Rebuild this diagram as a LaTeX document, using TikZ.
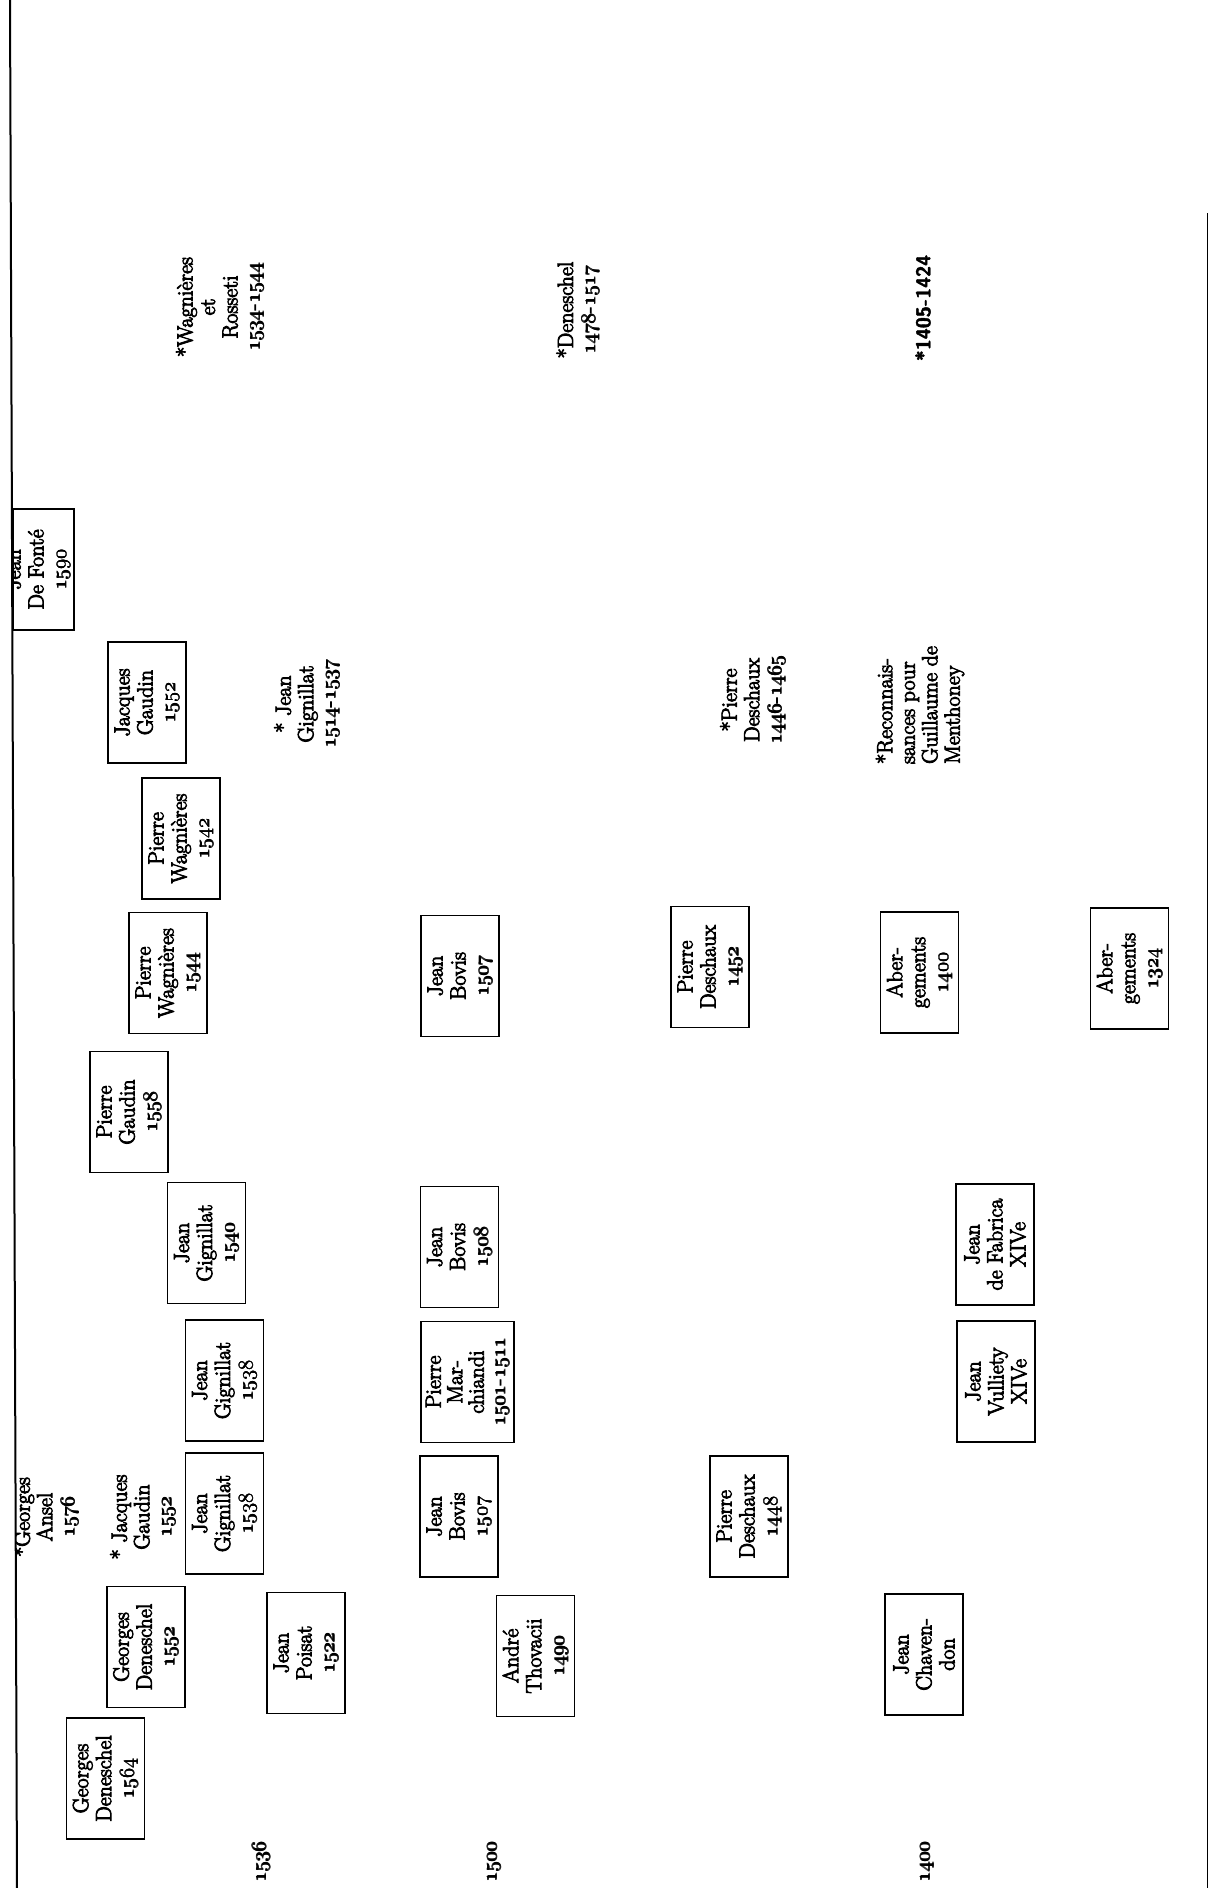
\documentclass[tikz,border=0pt]{standalone}
\usepackage{fontspec}
\setmainfont{Latin Modern Roman}[FakeBold=4]
\setsansfont{Latin Modern Sans}[FakeBold=2]
\newcommand\osf[1]{{\usefont{OML}{cmm}{m}{it}#1}}
\newcommand\yr[1]{\makebox[0pt][l]{\osf{#1}}\makebox[0pt][l]{\raisebox{0.7pt}{\osf{#1}}}\makebox[0pt][l]{\kern0.7pt\raisebox{0.7pt}{\osf{#1}}}\kern0.7pt\osf{#1}}
\newcommand\yrs[2]{\yr{#1}-\yr{#2}}
\begin{document}
\begin{tikzpicture}[x=1pt,y=-1pt,
  box/.style={draw, line width=1.5pt, rotate=90, minimum width=121pt, minimum height=78pt,
    inner sep=0pt, align=center, font=\fontsize{22}{23}\selectfont},
  note/.style={rotate=90, inner sep=0pt, align=center, font=\fontsize{22}{22.5}\selectfont},
  yearlab/.style={rotate=90, inner sep=0pt, font=\fontsize{20.74}{21}\selectfont},
  edge/.style={line width=2pt}]
\useasboundingbox (0,0) rectangle (1208,1888);
\coordinate (lt) at (10,0);
\coordinate (lb) at (17,1888);
\coordinate (rt) at (1207,213);
\coordinate (rb) at (1207,1888);
\begin{scope}
\clip (lt) -- (lb) -- (1208,1888) -- (1208,0) -- cycle;
% boxes
\node[box] (gd64) at (105.5,1778.5) {Georges\\Deneschel\\\yr{1564}};
\node[box] (gd52) at (146,1647) {Georges\\Deneschel\\\yr{1552}};
\node[box] (jg38a) at (224.5,1513.5) {Jean\\Gignillat\\\yr{1538}};
\node[box] (jg38b) at (224.5,1380.5) {Jean\\Gignillat\\\yr{1538}};
\node[box] (jg40) at (206.5,1243) {Jean\\Gignillat\\\yr{1540}};
\node[box] (pg58) at (129,1112) {Pierre\\Gaudin\\\yr{1558}};
\node[box] (pw44) at (168,973) {Pierre\\Wagnières\\\yr{1544}};
\node[box] (pw42) at (181,838.5) {Pierre\\Wagnières\\\yr{1542}};
\node[box] (jq52) at (147,702.5) {Jacques\\Gaudin\\\yr{1552}};
\node[draw, line width=1.5pt, minimum width=61pt, minimum height=121pt, inner sep=0pt] (fonte) at (43.5,569.5) {};
\node[note, font=\fontsize{22}{23}\selectfont] (fontetxt) at (38,569.5) {Jean\\De Fonté\\\yr{1590}};
\node[box] (jp22) at (306,1653) {Jean\\Poisat\\\yr{1522}};
\node[box] (jb07a) at (459,1516.5) {Jean\\Bovis\\\yr{1507}};
\node[box, minimum height=93pt, font=\fontsize{22}{21.5}\selectfont] (pm) at (467.5,1382) {Pierre\\Mar-\\chiandi\\\yrs{1501}{1511}};
\node[box] (jb08) at (459.5,1247) {Jean\\Bovis\\\yr{1508}};
\node[box] (jb07b) at (460,976) {Jean\\Bovis\\\yr{1507}};
\node[box] (at90) at (535.5,1656) {André\\Thovacii\\\yr{1490}};
\node[box] (pd48) at (749,1516.5) {Pierre\\Deschaux\\\yr{1448}};
\node[box] (pd52) at (710,967) {Pierre\\Deschaux\\\yr{1452}};
\node[box] (jc) at (924,1654.5) {Jean\\Chaven-\\don};
\node[box] (jv) at (996,1381.5) {Jean\\Vulliety\\XIVe};
\node[box] (jf) at (995,1244.5) {Jean\\de Fabrica\\XIVe};
\node[box] (ab00) at (919.5,972.5) {Aber-\\gements\\\yr{1400}};
\node[box] (ab24) at (1129.5,968.5) {Aber-\\gements\\\yr{1324}};
% notes
\node[note] (ansel) at (46,1517) {*Georges\\Ansel\\\yr{1576}};
\node[note] (jqn) at (143,1517) {* Jacques\\Gaudin\\\yr{1552}};
\node[note] (jgn) at (307,704) {* Jean\\Gignillat\\\yrs{1514}{1537}};
\node[note] (pdn) at (753,700) {*Pierre\\Deschaux\\\yrs{1446}{1465}};
\node[note, align=left] (rec) at (920,705) {*Reconnais-\\sances pour\\Guillaume de\\Menthoney};
\node[note] (wag) at (220,307) {*Wagnières\\et\\Rosseti\\\yrs{1534}{1544}};
\node[note] (den) at (578,310) {*Deneschel\\\yrs{1478}{1517}};
\node[note, font=\fontsize{20}{21}\selectfont\sffamily\bfseries] (n1405) at (923,308) {*1405-1424};
% year axis
\node[yearlab] (y1536) at (261,1862) {\yr{1536}};
\node[yearlab] (y1500) at (494,1862) {\yr{1500}};
\node[yearlab] (y1400) at (927,1862) {\yr{1400}};
\end{scope}
\draw[edge] (lt) -- (lb);
\draw[line width=1pt] (rt) -- (rb);
\end{tikzpicture}
\end{document}
